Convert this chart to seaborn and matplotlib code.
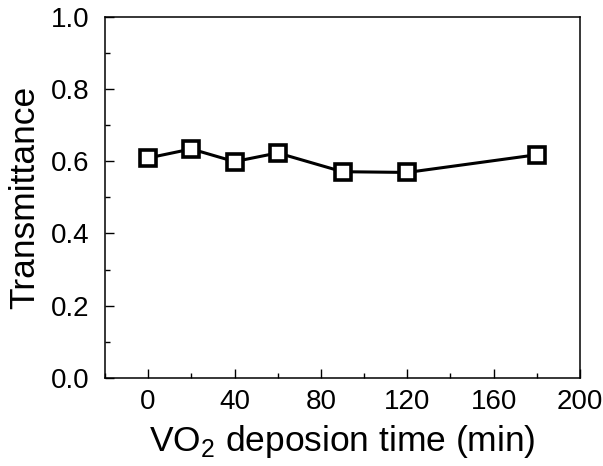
import matplotlib
matplotlib.use("Agg")
import matplotlib.pyplot as plt
import seaborn as sns
import pandas as pd
from matplotlib.ticker import MultipleLocator

time_min = [0, 20, 40, 60, 90, 120, 180]
transmittance = [0.609, 0.634, 0.599, 0.623, 0.571, 0.569, 0.618]

sns.set_theme(style="ticks")
plt.rcParams['font.family'] = ['Liberation Sans', 'DejaVu Sans']
plt.rcParams['mathtext.fontset'] = 'custom'
plt.rcParams['mathtext.rm'] = 'Liberation Sans'

df = pd.DataFrame({"time": time_min, "T": transmittance})

fig = plt.figure(figsize=(6.03, 4.66), dpi=100)
ax = fig.add_axes([0.174, 0.189, 0.788, 0.775])

sns.lineplot(data=df, x="time", y="T", ax=ax, color="black", linewidth=2.2,
             marker="s", markersize=11.5, markerfacecolor="white",
             markeredgecolor="black", markeredgewidth=2.6)

ax.set_xlim(-20, 200)
ax.set_ylim(0, 1.0)
ax.xaxis.set_major_locator(MultipleLocator(40))
ax.xaxis.set_minor_locator(MultipleLocator(20))
ax.yaxis.set_major_locator(MultipleLocator(0.2))
ax.yaxis.set_minor_locator(MultipleLocator(0.1))
ax.yaxis.set_major_formatter(matplotlib.ticker.FormatStrFormatter('%.1f'))

for s in ax.spines.values():
    s.set_visible(True)
    s.set_linewidth(1.1)
    s.set_color("black")

ax.tick_params(which="major", direction="in", length=6.5, width=1.0,
               labelsize=20, color="black", labelcolor="black")
ax.tick_params(axis="y", which="major", pad=11)
ax.tick_params(axis="x", which="major", pad=8)
ax.tick_params(which="minor", direction="in", length=3.5, width=1.0, color="black")
ax.tick_params(top=False, right=False, which="both")

ax.set_xlabel(r"VO$_2$ deposion time (min)", fontsize=25.5, color="black", labelpad=6)
ax.set_ylabel("Transmittance", fontsize=25.5, color="black", labelpad=7)

fig.savefig("out.png", dpi=100)
